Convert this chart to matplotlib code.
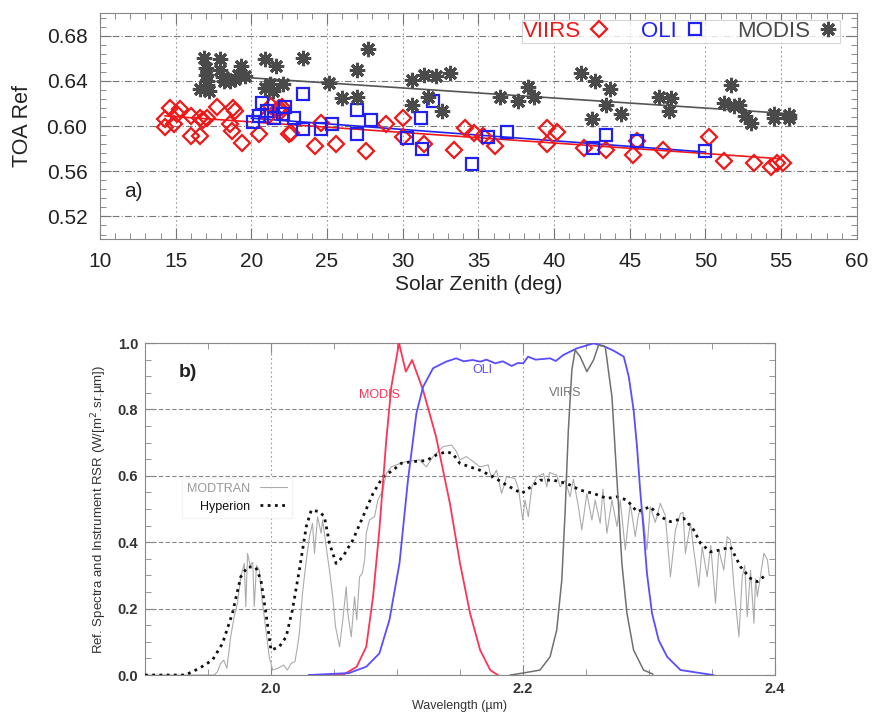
import numpy as np
import matplotlib
matplotlib.use('Agg')
import matplotlib.pyplot as plt
from matplotlib.ticker import MultipleLocator

plt.rcParams['font.family'] = ['Liberation Sans', 'DejaVu Sans']

# ---- panel a) TOA reflectance vs solar zenith ----
viirs_sza = [14.3, 14.3, 14.6, 14.9, 15.3, 15.1, 16.0, 16.0, 16.6, 16.6, 16.8, 17.1, 17.7,
             18.6, 18.7, 18.8, 18.9, 19.4, 20.5, 21.1, 21.3, 21.8, 22.0, 21.9, 22.5, 22.6,
             24.2, 24.6, 25.6, 27.6, 28.9, 30.0, 30.0, 31.4, 33.4, 34.1, 34.7, 35.3, 36.1,
             39.5, 40.2, 39.5, 42.0, 43.4, 45.2, 45.5, 47.2, 50.2, 51.2, 53.2, 54.3, 54.7, 55.1]
viirs_ref = [0.599, 0.606, 0.616, 0.602, 0.615, 0.611, 0.609, 0.591, 0.607, 0.591, 0.605, 0.607, 0.617,
             0.602, 0.596, 0.616, 0.613, 0.585, 0.593, 0.609, 0.618, 0.616, 0.617, 0.612, 0.593, 0.594,
             0.582, 0.603, 0.584, 0.578, 0.602, 0.607, 0.590, 0.584, 0.579, 0.598, 0.594, 0.591, 0.582,
             0.598, 0.595, 0.584, 0.581, 0.579, 0.574, 0.587, 0.579, 0.590, 0.569, 0.567, 0.564, 0.567, 0.567]

oli_sza = [20.1, 20.7, 20.5, 21.0, 21.5, 22.2, 22.1, 22.8, 23.4, 23.4, 24.6, 25.3, 27.0, 27.0,
           27.9, 30.3, 31.2, 31.3, 32.0, 34.6, 35.6, 36.9, 43.4, 42.6, 45.5, 50.0]
oli_ref = [0.604, 0.620, 0.609, 0.613, 0.607, 0.617, 0.611, 0.607, 0.597, 0.628, 0.597, 0.602, 0.614, 0.593,
           0.605, 0.589, 0.607, 0.580, 0.622, 0.566, 0.590, 0.595, 0.592, 0.581, 0.587, 0.578]

modis_sza = [16.6, 16.9, 17.0, 17.0, 17.1, 17.2, 17.1, 17.9, 17.9, 18.1, 18.2, 18.6, 18.9, 19.3,
             19.6, 19.1, 20.9, 21.6, 20.9, 21.4, 21.2, 22.1, 23.4, 25.1, 26.0, 27.0, 27.0, 27.7,
             30.6, 30.6, 31.4, 31.7, 32.2, 33.1, 32.6, 36.4, 37.6, 38.3, 38.7, 41.8, 42.7, 43.7,
             42.5, 43.4, 44.4, 46.9, 47.7, 47.6, 51.7, 51.2, 51.9, 52.2, 52.6, 53.0, 54.5, 54.5,
             55.5, 55.5]
modis_ref = [0.633, 0.660, 0.651, 0.645, 0.640, 0.631, 0.636, 0.659, 0.650, 0.643, 0.640, 0.640, 0.642, 0.653,
             0.644, 0.645, 0.659, 0.653, 0.634, 0.631, 0.637, 0.637, 0.660, 0.638, 0.625, 0.650, 0.626, 0.668,
             0.641, 0.619, 0.645, 0.626, 0.644, 0.647, 0.613, 0.626, 0.622, 0.635, 0.626, 0.647, 0.640, 0.633,
             0.606, 0.619, 0.611, 0.626, 0.625, 0.613, 0.636, 0.620, 0.618, 0.619, 0.609, 0.603, 0.607, 0.611,
             0.607, 0.610]

viirs_fit_x = [14.3, 55.0]
viirs_fit_y = [0.609, 0.571]
oli_fit_x = [20.0, 50.0]
oli_fit_y = [0.607, 0.577]
modis_fit_x = [19.6, 55.5]
modis_fit_y = [0.643, 0.611]

# ---- panel b) spectra and relative spectral responses ----
modis_wl = [2.040, 2.057, 2.068, 2.0756, 2.081, 2.086, 2.0915, 2.0955, 2.1016, 2.107, 2.112,
            2.1207, 2.131, 2.142, 2.150, 2.158, 2.166, 2.174, 2.180]
modis_rsr = [0.0, 0.0, 0.025, 0.085, 0.236, 0.437, 0.708, 0.868, 1.0, 0.914, 0.949,
             0.858, 0.718, 0.517, 0.337, 0.186, 0.075, 0.015, 0.0]

oli_wl = [2.030, 2.062, 2.0756, 2.086, 2.094, 2.102, 2.1087, 2.1154, 2.1207, 2.1286, 2.139,
          2.147, 2.153, 2.160, 2.166, 2.171, 2.178, 2.184, 2.191, 2.196, 2.2002, 2.204, 2.210,
          2.2215, 2.226, 2.232, 2.2427, 2.256, 2.264, 2.2719, 2.280, 2.284, 2.2878, 2.2905,
          2.293, 2.2957, 2.2984, 2.3024, 2.3077, 2.3144, 2.325, 2.351]
oli_rsr = [0.0, 0.006, 0.025, 0.065, 0.166, 0.337, 0.587, 0.788, 0.868, 0.924, 0.944,
           0.954, 0.945, 0.949, 0.944, 0.950, 0.939, 0.945, 0.931, 0.940, 0.939, 0.959, 0.950,
           0.954, 0.946, 0.964, 0.984, 0.999, 0.991, 0.977, 0.959, 0.898, 0.798, 0.688,
           0.557, 0.437, 0.306, 0.186, 0.105, 0.055, 0.015, 0.0]

viirs_wl = [2.190, 2.200, 2.2135, 2.2215, 2.2268, 2.2308, 2.2334, 2.236, 2.2388, 2.2414, 2.2454,
            2.2507, 2.256, 2.260, 2.2653, 2.2706, 2.2746, 2.2785, 2.2825, 2.2878, 2.2957, 2.303]
viirs_rsr = [0.0, 0.006, 0.015, 0.055, 0.136, 0.286, 0.488, 0.738, 0.919, 0.979, 0.959,
             0.914, 0.949, 0.994, 0.989, 0.838, 0.587, 0.336, 0.186, 0.075, 0.015, 0.003]

hyp_wl = [1.900, 1.932, 1.943, 1.9535, 1.9615, 1.9694, 1.976, 1.9814, 1.988, 1.992, 1.996,
          2.000, 2.0066, 2.012, 2.017, 2.0225, 2.028, 2.032, 2.0384, 2.0424, 2.0464, 2.0517,
          2.057, 2.065, 2.073, 2.081, 2.0888, 2.0968, 2.1035, 2.1127, 2.1233, 2.1313, 2.1393,
          2.1445, 2.1498, 2.1578, 2.1658, 2.1764, 2.187, 2.199, 2.2135, 2.224, 2.2348, 2.2454,
          2.256, 2.2666, 2.2746, 2.2825, 2.2905, 2.301, 2.309, 2.317, 2.3276, 2.3355, 2.3409,
          2.3488, 2.3568, 2.3647, 2.3727, 2.3806, 2.386, 2.3926]
hyp_ref = [0.0, 0.0, 0.02, 0.045, 0.095, 0.186, 0.296, 0.326, 0.324, 0.286, 0.186,
           0.075, 0.085, 0.115, 0.196, 0.316, 0.447, 0.497, 0.492, 0.477, 0.397, 0.336,
           0.356, 0.407, 0.477, 0.547, 0.597, 0.617, 0.638, 0.643, 0.646, 0.663, 0.673,
           0.666, 0.638, 0.627, 0.617, 0.597, 0.572, 0.547, 0.587, 0.587, 0.577, 0.557,
           0.547, 0.532, 0.537, 0.527, 0.492, 0.507, 0.477, 0.462, 0.472, 0.437, 0.397,
           0.371, 0.377, 0.386, 0.326, 0.291, 0.281, 0.301]

modtran_wl = [1.900, 1.955, 1.9575, 1.960, 1.9625, 1.965, 1.968, 1.9708, 1.9734, 1.976, 1.9788,
              1.980, 1.9814, 1.9835, 1.9855, 1.9867, 1.9885, 1.9907, 1.9933, 1.996, 1.9986,
              2.0013, 2.0053, 2.010, 2.013, 2.016, 2.019, 2.021, 2.0225, 2.025, 2.028, 2.0305,
              2.033, 2.0345, 2.037, 2.0398, 2.041, 2.0438, 2.0464, 2.049, 2.0512, 2.0544, 2.057,
              2.0597, 2.061, 2.0637, 2.0663, 2.0681, 2.0703, 2.0724, 2.0743, 2.0756, 2.0782,
              2.0822, 2.0848, 2.0888, 2.0915, 2.0955, 2.0995, 2.1074, 2.118, 2.1233, 2.1286,
              2.1366, 2.1433, 2.1472, 2.150, 2.155, 2.1605, 2.1658, 2.1724, 2.175, 2.179, 2.183,
              2.187, 2.1936, 2.1965, 2.1998, 2.2016, 2.2042, 2.207, 2.211, 2.2162, 2.2189, 2.221,
              2.2268, 2.2295, 2.2334, 2.2374, 2.240, 2.244, 2.2467, 2.2507, 2.2547, 2.2573,
              2.2613, 2.2635, 2.2666, 2.2706, 2.2746, 2.2772, 2.2812, 2.2851, 2.2891, 2.2918,
              2.295, 2.2984, 2.301, 2.305, 2.309, 2.313, 2.317, 2.321, 2.325, 2.327, 2.3289,
              2.333, 2.3355, 2.3395, 2.3422, 2.3462, 2.349, 2.3528, 2.3554, 2.3594, 2.3621,
              2.3647, 2.3674, 2.3714, 2.374, 2.376, 2.378, 2.3806, 2.3833, 2.3846, 2.386,
              2.3912, 2.394, 2.3955]
modtran_ref = [0.0, 0.0, 0.01, 0.035, 0.045, 0.02, 0.115, 0.176, 0.216, 0.296, 0.336,
               0.206, 0.366, 0.33, 0.34, 0.206, 0.33, 0.316, 0.216, 0.136, 0.055,
               0.015, 0.02, 0.03, 0.015, 0.035, 0.04, 0.085, 0.125, 0.246, 0.346, 0.417,
               0.457, 0.366, 0.477, 0.427, 0.467, 0.386, 0.316, 0.236, 0.146, 0.085, 0.166,
               0.266, 0.186, 0.115, 0.236, 0.166, 0.296, 0.306, 0.346, 0.427, 0.467,
               0.477, 0.527, 0.557, 0.607, 0.627, 0.633, 0.643, 0.648, 0.627, 0.658,
               0.688, 0.693, 0.673, 0.648, 0.658, 0.643, 0.627, 0.633, 0.592, 0.617, 0.547,
               0.597, 0.592, 0.56, 0.467, 0.527, 0.477, 0.567, 0.597, 0.607, 0.567, 0.61,
               0.602, 0.567, 0.587, 0.537, 0.59, 0.507, 0.437, 0.547, 0.467, 0.527,
               0.457, 0.56, 0.427, 0.527, 0.447, 0.527, 0.377, 0.517, 0.417, 0.487,
               0.49, 0.377, 0.507, 0.46, 0.517, 0.48, 0.296, 0.437, 0.487, 0.49, 0.367,
               0.457, 0.377, 0.266, 0.386, 0.296, 0.39, 0.216, 0.377, 0.316, 0.417,
               0.407, 0.266, 0.115, 0.296, 0.33, 0.176, 0.316, 0.156, 0.29, 0.236,
               0.367, 0.347, 0.30]

fig = plt.figure(figsize=(8.74, 7.15), dpi=100)
ax1 = fig.add_axes([0.1144, 0.6657, 0.866, 0.316])
ax2 = fig.add_axes([0.1659, 0.0559, 0.7208, 0.4643])

red = '#f01818'
blue = '#2020f0'
dgray = '#4a4a4a'

# panel a
ax1.plot(viirs_fit_x, viirs_fit_y, color=red, lw=1.2, zorder=3)
ax1.plot(oli_fit_x, oli_fit_y, color=blue, lw=1.2, zorder=3)
ax1.plot(modis_fit_x, modis_fit_y, color='#555555', lw=1.2, zorder=3)
ax1.plot(viirs_sza, viirs_ref, ls='none', marker='D', ms=8, mfc='none', mec=red, mew=1.6,
         label='VIIRS', zorder=4)
ax1.plot(oli_sza, oli_ref, ls='none', marker='s', ms=9, mfc='none', mec=blue, mew=1.6,
         label='OLI', zorder=4)
ax1.plot(modis_sza, modis_ref, ls='none', marker=(8, 2, 0), ms=11, mec=dgray, mew=2.2,
         label='MODIS', zorder=4)

ax1.set_xlim(10, 60)
ax1.set_ylim(0.50, 0.70)
ax1.set_xticks(np.arange(10, 61, 5))
ax1.set_yticks([0.52, 0.56, 0.60, 0.64, 0.68])
ax1.set_yticklabels(['0.52', '0.56', '0.60', '0.64', '0.68'])
ax1.xaxis.set_minor_locator(MultipleLocator(1))
ax1.yaxis.set_minor_locator(MultipleLocator(0.008))
ax1.tick_params(which='both', direction='in', top=True, right=True, colors='#777777',
                labelcolor='#222222', labelsize=15)
ax1.tick_params(which='major', length=8, pad=9)
ax1.tick_params(which='minor', length=4)
ax1.grid(True, axis='y', color='#777777', lw=0.8, ls=(0, (6, 2, 1, 2)))
ax1.grid(True, axis='x', color='#999999', lw=0.8, ls=(0, (1.5, 2.5)))
ax1.set_axisbelow(True)
for s in ax1.spines.values():
    s.set_color('#888888')
ax1.set_xlabel('Solar Zenith (deg)', fontsize=15, color='#222222', labelpad=3)
ax1.set_ylabel('TOA Ref', fontsize=15.5, color='#222222', labelpad=10)
ax1.text(11.6, 0.542, 'a)', fontsize=15, color='#222222', va='center')
leg1 = ax1.legend(loc='upper right', ncol=3, markerfirst=False, fontsize=16,
                  bbox_to_anchor=(0.9775, 0.97), borderaxespad=0, frameon=True,
                  fancybox=False, handletextpad=0.3, columnspacing=1.4, borderpad=0.05,
                  labelcolor='markeredgecolor', handlelength=1.0)
leg1.get_frame().set_edgecolor('#cccccc')
leg1.get_frame().set_linewidth(0.8)

# panel b
ax2.plot(modtran_wl, modtran_ref, color='#ababab', lw=0.8, label='MODTRAN', zorder=2)
ax2.plot(hyp_wl, hyp_ref, color='#111111', lw=2.0, ls=(0, (1, 1.6)), label='Hyperion', zorder=3)
ax2.plot(modis_wl, modis_rsr, color='#ff3355', lw=1.3, zorder=4)
ax2.plot(oli_wl, oli_rsr, color='#5a4cff', lw=1.3, zorder=4)
ax2.plot(viirs_wl, viirs_rsr, color='#707070', lw=1.1, zorder=4)

ax2.set_xlim(1.9, 2.4)
ax2.set_ylim(0.0, 1.0)
ax2.set_xticks([2.0, 2.2, 2.4])
ax2.set_xticklabels(['2.0', '2.2', '2.4'])
ax2.set_yticks([0.0, 0.2, 0.4, 0.6, 0.8, 1.0])
ax2.set_yticklabels(['0.0', '0.2', '0.4', '0.6', '0.8', '1.0'])
ax2.xaxis.set_minor_locator(MultipleLocator(0.05))
ax2.yaxis.set_minor_locator(MultipleLocator(0.05))
ax2.tick_params(which='both', direction='in', top=True, right=True, colors='#888888',
                labelcolor='#333333', labelsize=10.5)
ax2.tick_params(which='major', length=7, pad=5)
ax2.tick_params(which='minor', length=4)
for lab in ax2.get_xticklabels() + ax2.get_yticklabels():
    lab.set_fontweight('bold')
ax2.grid(True, axis='y', color='#888888', lw=0.8, ls=(0, (4, 2)))
ax2.grid(True, axis='x', color='#999999', lw=0.8, ls=(0, (1.5, 2.5)))
ax2.set_axisbelow(True)
for s in ax2.spines.values():
    s.set_color('#888888')
ax2.set_xlabel('Wavelength (\u00b5m)', fontsize=9, color='#333333', labelpad=3)
ax2.set_ylabel('Ref. Spectra and Instrument RSR (W/[m$^2$.sr.\u00b5m])', fontsize=9.5,
               color='#333333', labelpad=6)
ax2.text(1.927, 0.91, 'b)', fontsize=14, fontweight='bold', color='#222222', va='center')
ax2.text(2.0863, 0.843, 'MODIS', fontsize=9, color='#ff3355', ha='center', va='center')
ax2.text(2.168, 0.919, 'OLI', fontsize=9, color='#5a4cff', ha='center', va='center')
ax2.text(2.2334, 0.849, 'VIIRS', fontsize=9, color='#777777', ha='center', va='center')
leg2 = ax2.legend(loc='upper left', bbox_to_anchor=(0.058, 0.595), borderaxespad=0,
                  markerfirst=False, fontsize=9, frameon=True, fancybox=False,
                  handlelength=2.2, labelcolor='linecolor', borderpad=0.4)
leg2.get_frame().set_edgecolor('#f0f0f0')
leg2.get_texts()[0].set_color('#999999')

fig.savefig('out.png', dpi=100)
